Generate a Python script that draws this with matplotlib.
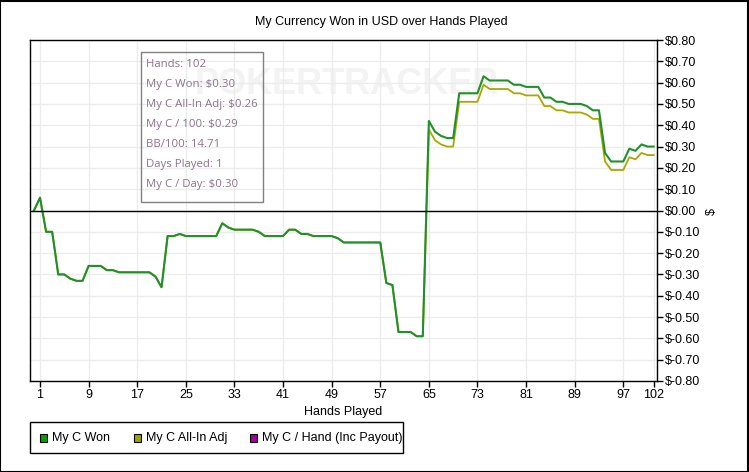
import matplotlib
matplotlib.use("Agg")
import matplotlib.pyplot as plt
from matplotlib.patches import Rectangle
from matplotlib.ticker import FuncFormatter

W, H = 749, 472

hands = list(range(0, 103))
won = [
    0.00, 0.06, -0.10, -0.10, -0.30, -0.30, -0.32, -0.33, -0.33, -0.26,
    -0.26, -0.26, -0.28, -0.28, -0.29, -0.29, -0.29, -0.29, -0.29, -0.29,
    -0.31, -0.36, -0.12, -0.12, -0.11, -0.12, -0.12, -0.12, -0.12, -0.12,
    -0.12, -0.06, -0.08, -0.09, -0.09, -0.09, -0.09, -0.10, -0.12, -0.12,
    -0.12, -0.12, -0.09, -0.09, -0.11, -0.11, -0.12, -0.12, -0.12, -0.12,
    -0.13, -0.15, -0.15, -0.15, -0.15, -0.15, -0.15, -0.15, -0.34, -0.35,
    -0.57, -0.57, -0.57, -0.59, -0.59, 0.42, 0.37, 0.35, 0.34, 0.34,
    0.55, 0.55, 0.55, 0.55, 0.63, 0.61, 0.61, 0.61, 0.61, 0.59,
    0.59, 0.58, 0.58, 0.58, 0.53, 0.53, 0.51, 0.51, 0.50, 0.50,
    0.50, 0.49, 0.47, 0.47, 0.27, 0.23, 0.23, 0.23, 0.29, 0.28,
    0.31, 0.30, 0.30,
]
allin_tail = [
    0.38, 0.33, 0.31, 0.30, 0.30,
    0.51, 0.51, 0.51, 0.51, 0.59, 0.57, 0.57, 0.57, 0.57, 0.55,
    0.55, 0.54, 0.54, 0.54, 0.49, 0.49, 0.47, 0.47, 0.46, 0.46,
    0.46, 0.45, 0.43, 0.43, 0.23, 0.19, 0.19, 0.19, 0.25, 0.24,
    0.27, 0.26, 0.26,
]
allin = won[:65] + allin_tail

x_ticks = [1, 9, 17, 25, 33, 41, 49, 57, 65, 73, 81, 89, 97, 102]
y_ticks = [round(-0.8 + 0.1 * i, 2) for i in range(17)]

stats = [
    "Hands: 102",
    "My C Won: $0.30",
    "My C All-In Adj: $0.26",
    "My C / 100: $0.29",
    "BB/100: 14.71",
    "Days Played: 1",
    "My C / Day: $0.30",
]
legend_items = [("My C Won", "#00a000"), ("My C All-In Adj", "#a0a000"),
                ("My C / Hand (Inc Payout)", "#a000a0")]

plt.rcParams["font.family"] = ["Liberation Sans", "DejaVu Sans"]


def fx(x):
    return x / W


def fy(y):
    return 1 - y / H


fig = plt.figure(figsize=(W / 100, H / 100), dpi=100)
ax = fig.add_axes([fx(30), fy(381), fx(656.7) - fx(30), fy(40) - fy(381)])

# faint watermark behind the lines
ax.text(0.263, 0.87, "POKERTRACKER", transform=ax.transAxes, fontsize=26,
        fontweight="bold", color="#f3f3f3", va="center", ha="left", zorder=0)

ax.plot(hands, allin, color="#a8a800", lw=1.3, zorder=3)
ax.plot(hands, won, color="#22902a", lw=1.5, zorder=4)
ax.axhline(0, color="black", lw=1.0, zorder=5)

ax.set_xlim(-0.65, 102.5)
ax.set_ylim(-0.8, 0.8)
ax.set_xticks(x_ticks)
ax.set_yticks(y_ticks)
ax.yaxis.tick_right()
ax.yaxis.set_major_formatter(FuncFormatter(lambda v, p: f"${v:.2f}"))
ax.tick_params(axis="both", direction="out", length=4, width=1, labelsize=9, pad=2)
ax.grid(True, color="#ececec", lw=1, zorder=1)
ax.set_axisbelow(True)
for s in ax.spines.values():
    s.set_color("black")
    s.set_linewidth(1)

ax.set_xlabel("Hands Played", fontsize=9, labelpad=3)
fig.text(fx(381), fy(21.5), "My Currency Won in USD over Hands Played",
         fontsize=9, ha="center", va="center")
fig.text(fx(712), fy(211.5), "$", fontsize=9, rotation=90, ha="center", va="center")

# stats box
fig.add_artist(Rectangle((fx(140.7), fy(201.7)), fx(262.7) - fx(140.7), fy(52.3) - fy(201.7),
                         transform=fig.transFigure, fill=False, edgecolor="#808080", lw=1))
for i, line in enumerate(stats):
    fig.text(fx(145.7), fy(64.3 + 20.1 * i), line, fontsize=8.2, family=["Open Sans", "DejaVu Sans"],
             color="#8a7488", ha="left", va="center")

# legend
fig.add_artist(Rectangle((fx(30), fy(453)), fx(403) - fx(30), fy(422) - fy(453),
                         transform=fig.transFigure, fill=False, edgecolor="black", lw=1))
for (label, c), sx, tx in zip(legend_items, [40, 134, 249.5], [52, 146, 262]):
    fig.add_artist(Rectangle((fx(sx), fy(441.5)), fx(7) - fx(0), fy(0) - fy(8),
                             transform=fig.transFigure, facecolor=c, edgecolor="black", lw=0.8))
    fig.text(fx(tx), fy(437.5), label, fontsize=9, ha="left", va="center")

# outer border
fig.add_artist(Rectangle((0.0005, 0.001), 0.998, 0.997, transform=fig.transFigure,
                         fill=False, edgecolor="black", lw=1.5))

fig.savefig("out.png", dpi=100)
